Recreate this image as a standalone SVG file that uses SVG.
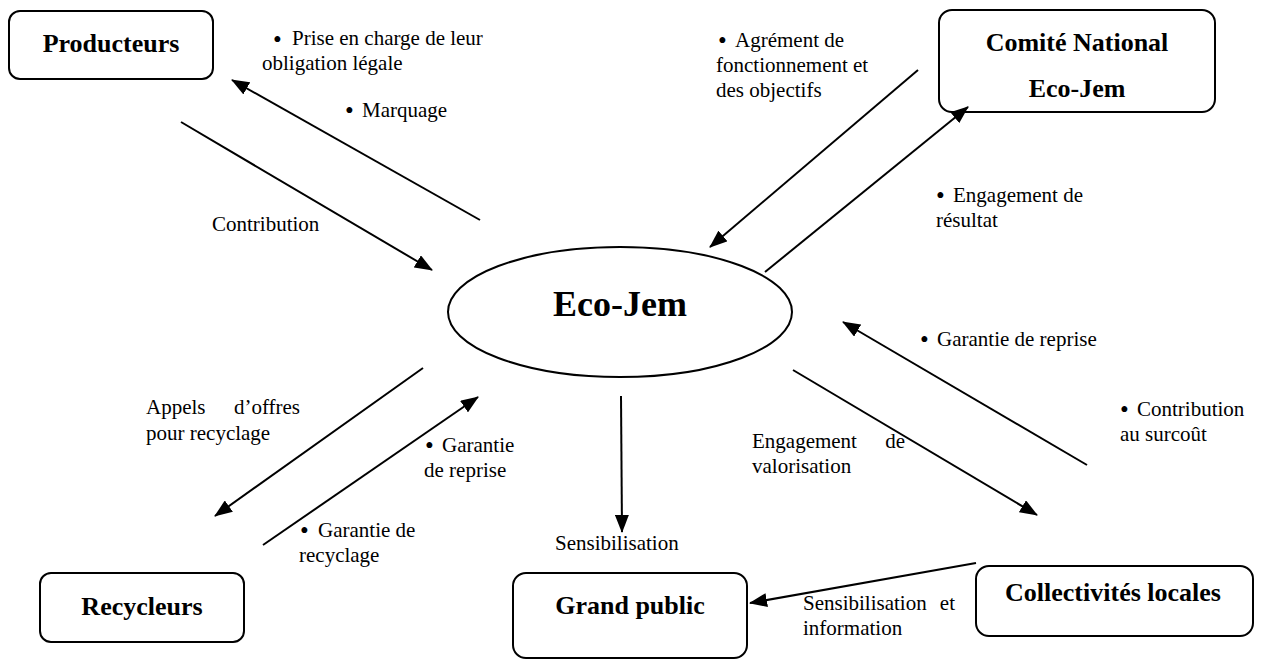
<svg xmlns="http://www.w3.org/2000/svg" width="1261" height="659" viewBox="0 0 1261 659">
<style>
.box{fill:#fff;stroke:#000;stroke-width:2}
.t{font-family:"Liberation Serif","Times New Roman",serif;font-weight:bold;font-size:26px;fill:#000;text-anchor:middle}
.big{font-size:36px}
.l{font-family:"Liberation Serif","Times New Roman",serif;font-size:21px;fill:#000}
.b{font-size:25px}
.e{text-anchor:end}
.c line{stroke:#000;stroke-width:2;marker-end:url(#ah)}
</style>
<defs>
<marker id="ah" markerUnits="userSpaceOnUse" markerWidth="18" markerHeight="14" refX="17" refY="7" orient="auto">
<path d="M0,0 L18,7 L0,14 z" fill="#000"/>
</marker>
</defs>
<rect width="1261" height="659" fill="#fff"/>
<g id="producteurs"><rect class="box" x="9" y="11" width="204" height="68" rx="11"/><text class="t" x="111" y="52">Producteurs</text></g>
<g id="comite"><rect class="box" x="939" y="10" width="276" height="102" rx="13"/><text class="t" x="1077" y="51">Comité National</text><text class="t" x="1077" y="97">Eco-Jem</text></g>
<g id="ecojem"><ellipse class="box" cx="620" cy="312" rx="172" ry="65"/><text class="t big" x="620" y="316">Eco-Jem</text></g>
<g id="recycleurs"><rect class="box" x="40" y="573" width="204" height="69" rx="11"/><text class="t" x="142" y="615">Recycleurs</text></g>
<g id="grandpublic"><rect class="box" x="513" y="573" width="234" height="85" rx="13"/><text class="t" x="630" y="614">Grand public</text></g>
<g id="collectivites"><rect class="box" x="976" y="566" width="277" height="70" rx="13"/><text class="t" x="1113" y="601">Collectivités locales</text></g>
<g id="connectors" class="c">
<line x1="480" y1="220" x2="232" y2="80"/>
<line x1="181" y1="122" x2="432" y2="270"/>
<line x1="918" y1="70" x2="710" y2="247"/>
<line x1="765" y1="272" x2="968" y2="107"/>
<line x1="1087" y1="465" x2="843" y2="322"/>
<line x1="793" y1="370" x2="1037" y2="515"/>
<line x1="423" y1="368" x2="215" y2="516"/>
<line x1="263" y1="545" x2="478" y2="397"/>
<line x1="621" y1="396" x2="622" y2="532"/>
<line x1="976" y1="563" x2="750" y2="603"/>
</g>
<g id="labels">
<text class="l b" x="273" y="48">•</text><text class="l" x="292" y="45">Prise en charge de leur</text>
<text class="l" x="262" y="70">obligation légale</text>
<text class="l b" x="345" y="119">•</text><text class="l" x="362" y="117">Marquage</text>
<text class="l" x="212" y="231">Contribution</text>
<text class="l b" x="718" y="49">•</text><text class="l" x="735" y="47">Agrément de</text>
<text class="l" x="716" y="72">fonctionnement et</text>
<text class="l" x="716" y="97">des objectifs</text>
<text class="l b" x="936" y="204">•</text><text class="l" x="953" y="202">Engagement de</text>
<text class="l" x="936" y="227">résultat</text>
<text class="l b" x="920" y="348">•</text><text class="l" x="937" y="346">Garantie de reprise</text>
<text class="l b" x="1120" y="418">•</text><text class="l" x="1137" y="416">Contribution</text>
<text class="l" x="1120" y="441">au surcoût</text>
<text class="l" y="448"><tspan x="752">Engagement</tspan><tspan class="e" x="905">de</tspan></text>
<text class="l" x="752" y="473">valorisation</text>
<text class="l" y="414"><tspan x="146">Appels</tspan><tspan class="e" x="300">d’offres</tspan></text>
<text class="l" x="146" y="440">pour recyclage</text>
<text class="l b" x="425" y="454">•</text><text class="l" x="442" y="452">Garantie</text>
<text class="l" x="424" y="477">de reprise</text>
<text class="l b" x="300" y="539">•</text><text class="l" x="318" y="537">Garantie de</text>
<text class="l" x="299" y="562">recyclage</text>
<text class="l" x="555" y="550">Sensibilisation</text>
<text class="l" y="610"><tspan x="803">Sensibilisation</tspan><tspan class="e" x="955">et</tspan></text>
<text class="l" x="803" y="635">information</text>
</g>
</svg>
